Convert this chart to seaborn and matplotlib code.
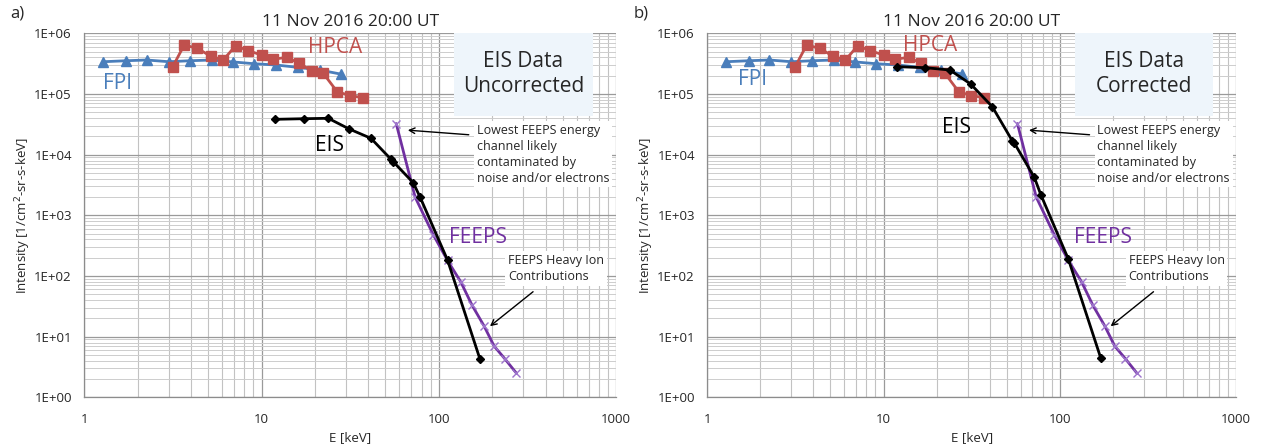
import numpy as np
import pandas as pd
import matplotlib
matplotlib.use("Agg")
import matplotlib.pyplot as plt
from matplotlib.patches import Rectangle
from matplotlib.ticker import FixedLocator, LogLocator, NullFormatter
import seaborn as sns

# ---- data -------------------------------------------------------------
fpi_energy = [1.28, 1.72, 2.25, 3.0, 3.95, 5.23, 6.93, 9.1, 12.1, 16.0, 21.3, 27.9]
fpi_flux = [3.4e5, 3.53e5, 3.63e5, 3.4e5, 3.53e5, 3.63e5, 3.37e5, 3.15e5,
            3.0e5, 2.75e5, 2.48e5, 2.13e5]

hpca_energy = [3.15, 3.66, 4.34, 5.16, 6.08, 7.14, 8.41, 10.0, 11.6, 13.9,
               16.3, 19.2, 22.3, 26.7, 31.5, 37.2]
hpca_flux = [2.8e5, 6.4e5, 5.66e5, 4.2e5, 3.63e5, 6.25e5, 5.17e5, 4.39e5,
             3.73e5, 4.02e5, 3.2e5, 2.42e5, 2.19e5, 1.09e5, 9.4e4, 8.7e4]

eis_energy = [11.9, 17.3, 23.8, 31.2, 41.4, 53.7, 55.3, 71.7, 78.2, 112, 171]
eis_flux_uncorrected = [3.82e4, 3.91e4, 3.97e4, 2.65e4, 1.86e4, 8.4e3, 7.65e3,
                        3.45e3, 2.03e3, 183, 4.2]
eis_flux_corrected = [2.82e5, 2.71e5, 2.48e5, 1.46e5, 6.17e4, 1.7e4, 1.54e4,
                      4.23e3, 2.16e3, 188, 4.4]

feeps_energy = [57.5, 73.5, 93, 112, 133, 154, 180, 205, 236, 274]
feeps_flux = [3.25e4, 2.0e3, 480, 180, 80, 33, 15, 7, 4.3, 2.5]

x_ticks = [1, 10, 100, 1000]
x_tick_labels = ["1", "10", "100", "1000"]
y_ticks = [1, 10, 100, 1e3, 1e4, 1e5, 1e6]
y_tick_labels = ["1E+00", "1E+01", "1E+02", "1E+03", "1E+04", "1E+05", "1E+06"]

panel_letters = ["a)", "b)"]
panel_boxes = ["EIS Data\nUncorrected", "EIS Data\nCorrected"]
title_text = "11 Nov 2016 20:00 UT"
note_low = "Lowest FEEPS energy\nchannel likely\ncontaminated by\nnoise and/or electrons"
note_heavy = "FEEPS Heavy Ion\nContributions"

# ---- style --------------------------------------------------------------
sns.set_style("white")
plt.rcParams["font.family"] = ["Open Sans", "DejaVu Sans"]

C_FPI = "#4a7ebb"
C_HPCA = "#c0504d"
C_EIS = "#000000"
C_FEEPS = "#7030a0"
C_FEEPS_MK = "#9d74cc"
GRID_MAJOR = "#9a9a9a"
GRID_MINOR = "#cdcdcd"

fig = plt.figure(figsize=(12.66, 4.44), dpi=100)
ax_a = fig.add_axes([0.0666, 0.1052, 0.4200, 0.8198])
ax_b = fig.add_axes([0.5587, 0.1052, 0.4176, 0.8198])


def series(ax, e, f, color, marker, ms, mec=None, lw=2.0, mew=1.0):
    df = pd.DataFrame({"E": e, "I": f})
    sns.lineplot(data=df, x="E", y="I", ax=ax, color=color, lw=lw,
                 marker=marker, markersize=ms, markeredgecolor=mec or color,
                 markerfacecolor=color, markeredgewidth=mew,
                 estimator=None, sort=False, zorder=4)


def panel(ax, eis_flux, letter, box_text, spots):
    ax.set_xscale("log")
    ax.set_yscale("log")
    ax.set_xlim(1, 1000)
    ax.set_ylim(1, 1e6)

    # grid
    ax.xaxis.set_major_locator(FixedLocator(x_ticks))
    ax.yaxis.set_major_locator(FixedLocator(y_ticks))
    ax.xaxis.set_minor_locator(LogLocator(base=10, subs=np.arange(2, 10)))
    ax.yaxis.set_minor_locator(LogLocator(base=10, subs=np.arange(2, 10)))
    ax.xaxis.set_minor_formatter(NullFormatter())
    ax.yaxis.set_minor_formatter(NullFormatter())
    ax.set_xticklabels(x_tick_labels)
    ax.set_yticklabels(y_tick_labels)
    ax.grid(True, which="major", color=GRID_MAJOR, lw=0.9, zorder=0)
    ax.grid(True, which="minor", axis="x", color="#c2c2c2", lw=0.8, zorder=0)
    ax.grid(True, which="minor", axis="y", color=GRID_MINOR, lw=0.7, zorder=0)
    ax.set_axisbelow(True)
    ax.tick_params(which="major", length=5, width=0.9, color="#8c8c8c",
                   labelsize=9.5, pad=4)
    ax.tick_params(axis="x", which="major", pad=6)
    ax.tick_params(which="minor", length=0)
    for s in ["top", "right"]:
        ax.spines[s].set_visible(False)
    for s in ["left", "bottom"]:
        ax.spines[s].set_color("#8c8c8c")
        ax.spines[s].set_linewidth(0.9)

    # data
    series(ax, fpi_energy, fpi_flux, C_FPI, "^", 7)
    series(ax, hpca_energy, hpca_flux, C_HPCA, "s", 6.5)
    series(ax, feeps_energy, feeps_flux, C_FEEPS, "x", 6, mec=C_FEEPS_MK,
           lw=2.0, mew=1.0)
    series(ax, eis_energy, eis_flux, C_EIS, "D", 4)

    # series names
    for txt, (x, y), c in zip(["FPI", "HPCA", "EIS", "FEEPS"], spots,
                              [C_FPI, C_HPCA, C_EIS, C_FEEPS]):
        ax.text(x, y, txt, color=c, fontsize=15, ha="center", va="center",
                zorder=6)

    ax.set_xlabel("E [keV]", fontsize=9.5, labelpad=4)
    ax.set_ylabel("Intensity [1/cm$^2$-sr-s-keV]", fontsize=9.5, labelpad=1)
    ax.set_title(title_text, fontsize=12.5, pad=5)

    # info box
    ax.add_patch(Rectangle((0.695, 0.774), 0.262, 0.226, transform=ax.transAxes,
                           facecolor="#eef5fb", edgecolor="none", zorder=5))
    ax.text(0.826, 0.889, box_text, transform=ax.transAxes, fontsize=15,
            ha="center", va="center", linespacing=1.25, zorder=6)

    # notes
    ax.text(0.738, 0.752, note_low, transform=ax.transAxes, fontsize=9,
            ha="left", va="top", linespacing=1.3, zorder=6,
            bbox=dict(facecolor="white", edgecolor="none", pad=2))
    ax.annotate("", xy=(64.5, 2.55e4), xytext=(153, 2.11e4),
                arrowprops=dict(arrowstyle="->", color="black", lw=1.0),
                zorder=7)
    ax.text(0.797, 0.394, note_heavy, transform=ax.transAxes, fontsize=9,
            ha="left", va="top", linespacing=1.3, zorder=6,
            bbox=dict(facecolor="white", edgecolor="none", pad=2))
    ax.annotate("", xy=(189, 13.9), xytext=(350, 58.7),
                arrowprops=dict(arrowstyle="->", color="black", lw=1.0),
                zorder=7)

    ax.text(-0.14, 1.055, letter, transform=ax.transAxes, fontsize=12,
            ha="left", va="center")


panel(ax_a, eis_flux_uncorrected, panel_letters[0], panel_boxes[0],
      [(1.55, 1.5e5), (26, 5.9e5), (24.3, 1.44e4), (166, 423)])
panel(ax_b, eis_flux_corrected, panel_letters[1], panel_boxes[1],
      [(1.8, 1.75e5), (18.3, 6.4e5), (26.1, 2.75e4), (175, 423)])

fig.savefig("out.png", dpi=100)
